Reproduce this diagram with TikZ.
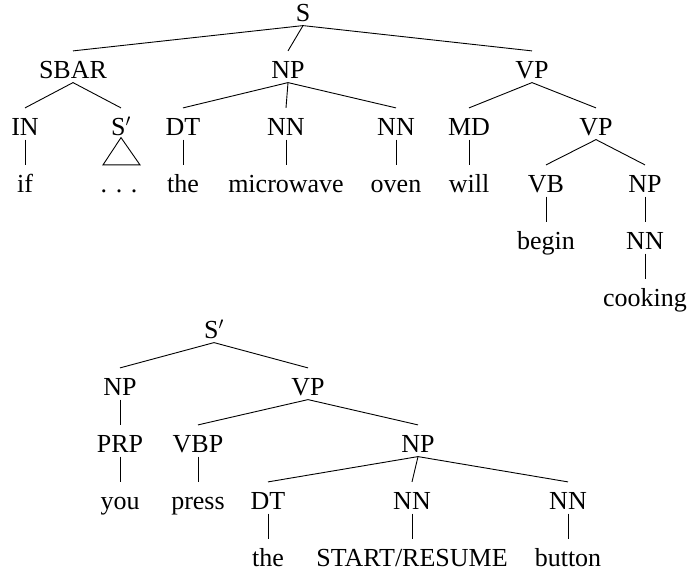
\documentclass[tikz,border=0pt]{standalone}
\usepackage{fontspec}
\setmainfont{Liberation Serif}
\begin{document}
\begin{tikzpicture}[x=1pt,y=-1pt,
  lbl/.style={anchor=base,inner sep=0pt,text height=27.5pt,text depth=3.8pt,font=\fontsize{26}{31}\selectfont},
  edge/.style={line width=0.9pt}]
\useasboundingbox (0,0) rectangle (688,578);
% Tree 1
\node[lbl] (S) at (303,21.6) {S};
\node[lbl] (SBAR) at (73,78.6) {SBAR};
\node[lbl] (NP1) at (288,78.6) {NP};
\node[lbl] (VP1) at (532,78.6) {VP};
\node[lbl] (IN) at (25,135.6) {IN};
\node[lbl] (Sp) at (121,135.6) {S$'$};
\node[lbl] (DT1) at (183,135.6) {DT};
\node[lbl] (NNa) at (286,135.6) {NN};
\node[lbl] (NNb) at (396,135.6) {NN};
\node[lbl] (MD) at (469,135.6) {MD};
\node[lbl] (VP2) at (596,135.6) {VP};
\node[lbl] (if) at (25,192.6) {if};
\node[lbl] (dots) at (119,192.6) {.\hspace{0.33em}.\hspace{0.33em}.};
\node[lbl] (the1) at (183,192.6) {the};
\node[lbl] (micro) at (286,192.6) {microwave};
\node[lbl] (oven) at (396,192.6) {oven};
\node[lbl] (will) at (469,192.6) {will};
\node[lbl] (VB) at (546,192.6) {VB};
\node[lbl] (NP2) at (645,192.6) {NP};
\node[lbl] (begin) at (546,249.6) {begin};
\node[lbl] (NNc) at (645,249.6) {NN};
\node[lbl] (cooking) at (645,306.6) {cooking};
\draw[edge] (S.south) -- (SBAR.north);
\draw[edge] (S.south) -- (NP1.north);
\draw[edge] (S.south) -- (VP1.north);
\draw[edge] (SBAR.south) -- (IN.north);
\draw[edge] (SBAR.south) -- (Sp.north);
\draw[edge] (NP1.south) -- (DT1.north);
\draw[edge] (NP1.south) -- (NNa.north);
\draw[edge] (NP1.south) -- (NNb.north);
\draw[edge] (VP1.south) -- (MD.north);
\draw[edge] (VP1.south) -- (VP2.north);
\draw[edge] (IN.south) -- (if.north);
\draw[edge] ([yshift=2pt]Sp.south) -- ([xshift=-16pt]dots.north) -- ([xshift=21pt]dots.north) -- cycle;
\draw[edge] (DT1.south) -- (the1.north);
\draw[edge] (NNa.south) -- (micro.north);
\draw[edge] (NNb.south) -- (oven.north);
\draw[edge] (MD.south) -- (will.north);
\draw[edge] (VP2.south) -- (VB.north);
\draw[edge] (VP2.south) -- (NP2.north);
\draw[edge] (VB.south) -- (begin.north);
\draw[edge] (NP2.south) -- (NNc.north);
\draw[edge] (NNc.south) -- (cooking.north);
% Tree 2
\node[lbl] (Sq) at (214,338.6) {S$'$};
\node[lbl] (NP3) at (120,395.6) {NP};
\node[lbl] (VP3) at (308,395.6) {VP};
\node[lbl] (PRP) at (120,452.6) {PRP};
\node[lbl] (VBP) at (198,452.6) {VBP};
\node[lbl] (NP4) at (418,452.6) {NP};
\node[lbl] (you) at (120,509.6) {you};
\node[lbl] (press) at (198,509.6) {press};
\node[lbl] (DT2) at (268,509.6) {DT};
\node[lbl] (NNd) at (412,509.6) {NN};
\node[lbl] (NNe) at (568,509.6) {NN};
\node[lbl] (the2) at (268,566.6) {the};
\node[lbl] (start) at (412,566.6) {START/RESUME};
\node[lbl] (button) at (568,566.6) {button};
\draw[edge] (Sq.south) -- (NP3.north);
\draw[edge] (Sq.south) -- (VP3.north);
\draw[edge] (NP3.south) -- (PRP.north);
\draw[edge] (VP3.south) -- (VBP.north);
\draw[edge] (VP3.south) -- (NP4.north);
\draw[edge] (PRP.south) -- (you.north);
\draw[edge] (VBP.south) -- (press.north);
\draw[edge] (NP4.south) -- (DT2.north);
\draw[edge] (NP4.south) -- (NNd.north);
\draw[edge] (NP4.south) -- (NNe.north);
\draw[edge] (DT2.south) -- (the2.north);
\draw[edge] (NNd.south) -- (start.north);
\draw[edge] (NNe.south) -- (button.north);
\end{tikzpicture}
\end{document}
